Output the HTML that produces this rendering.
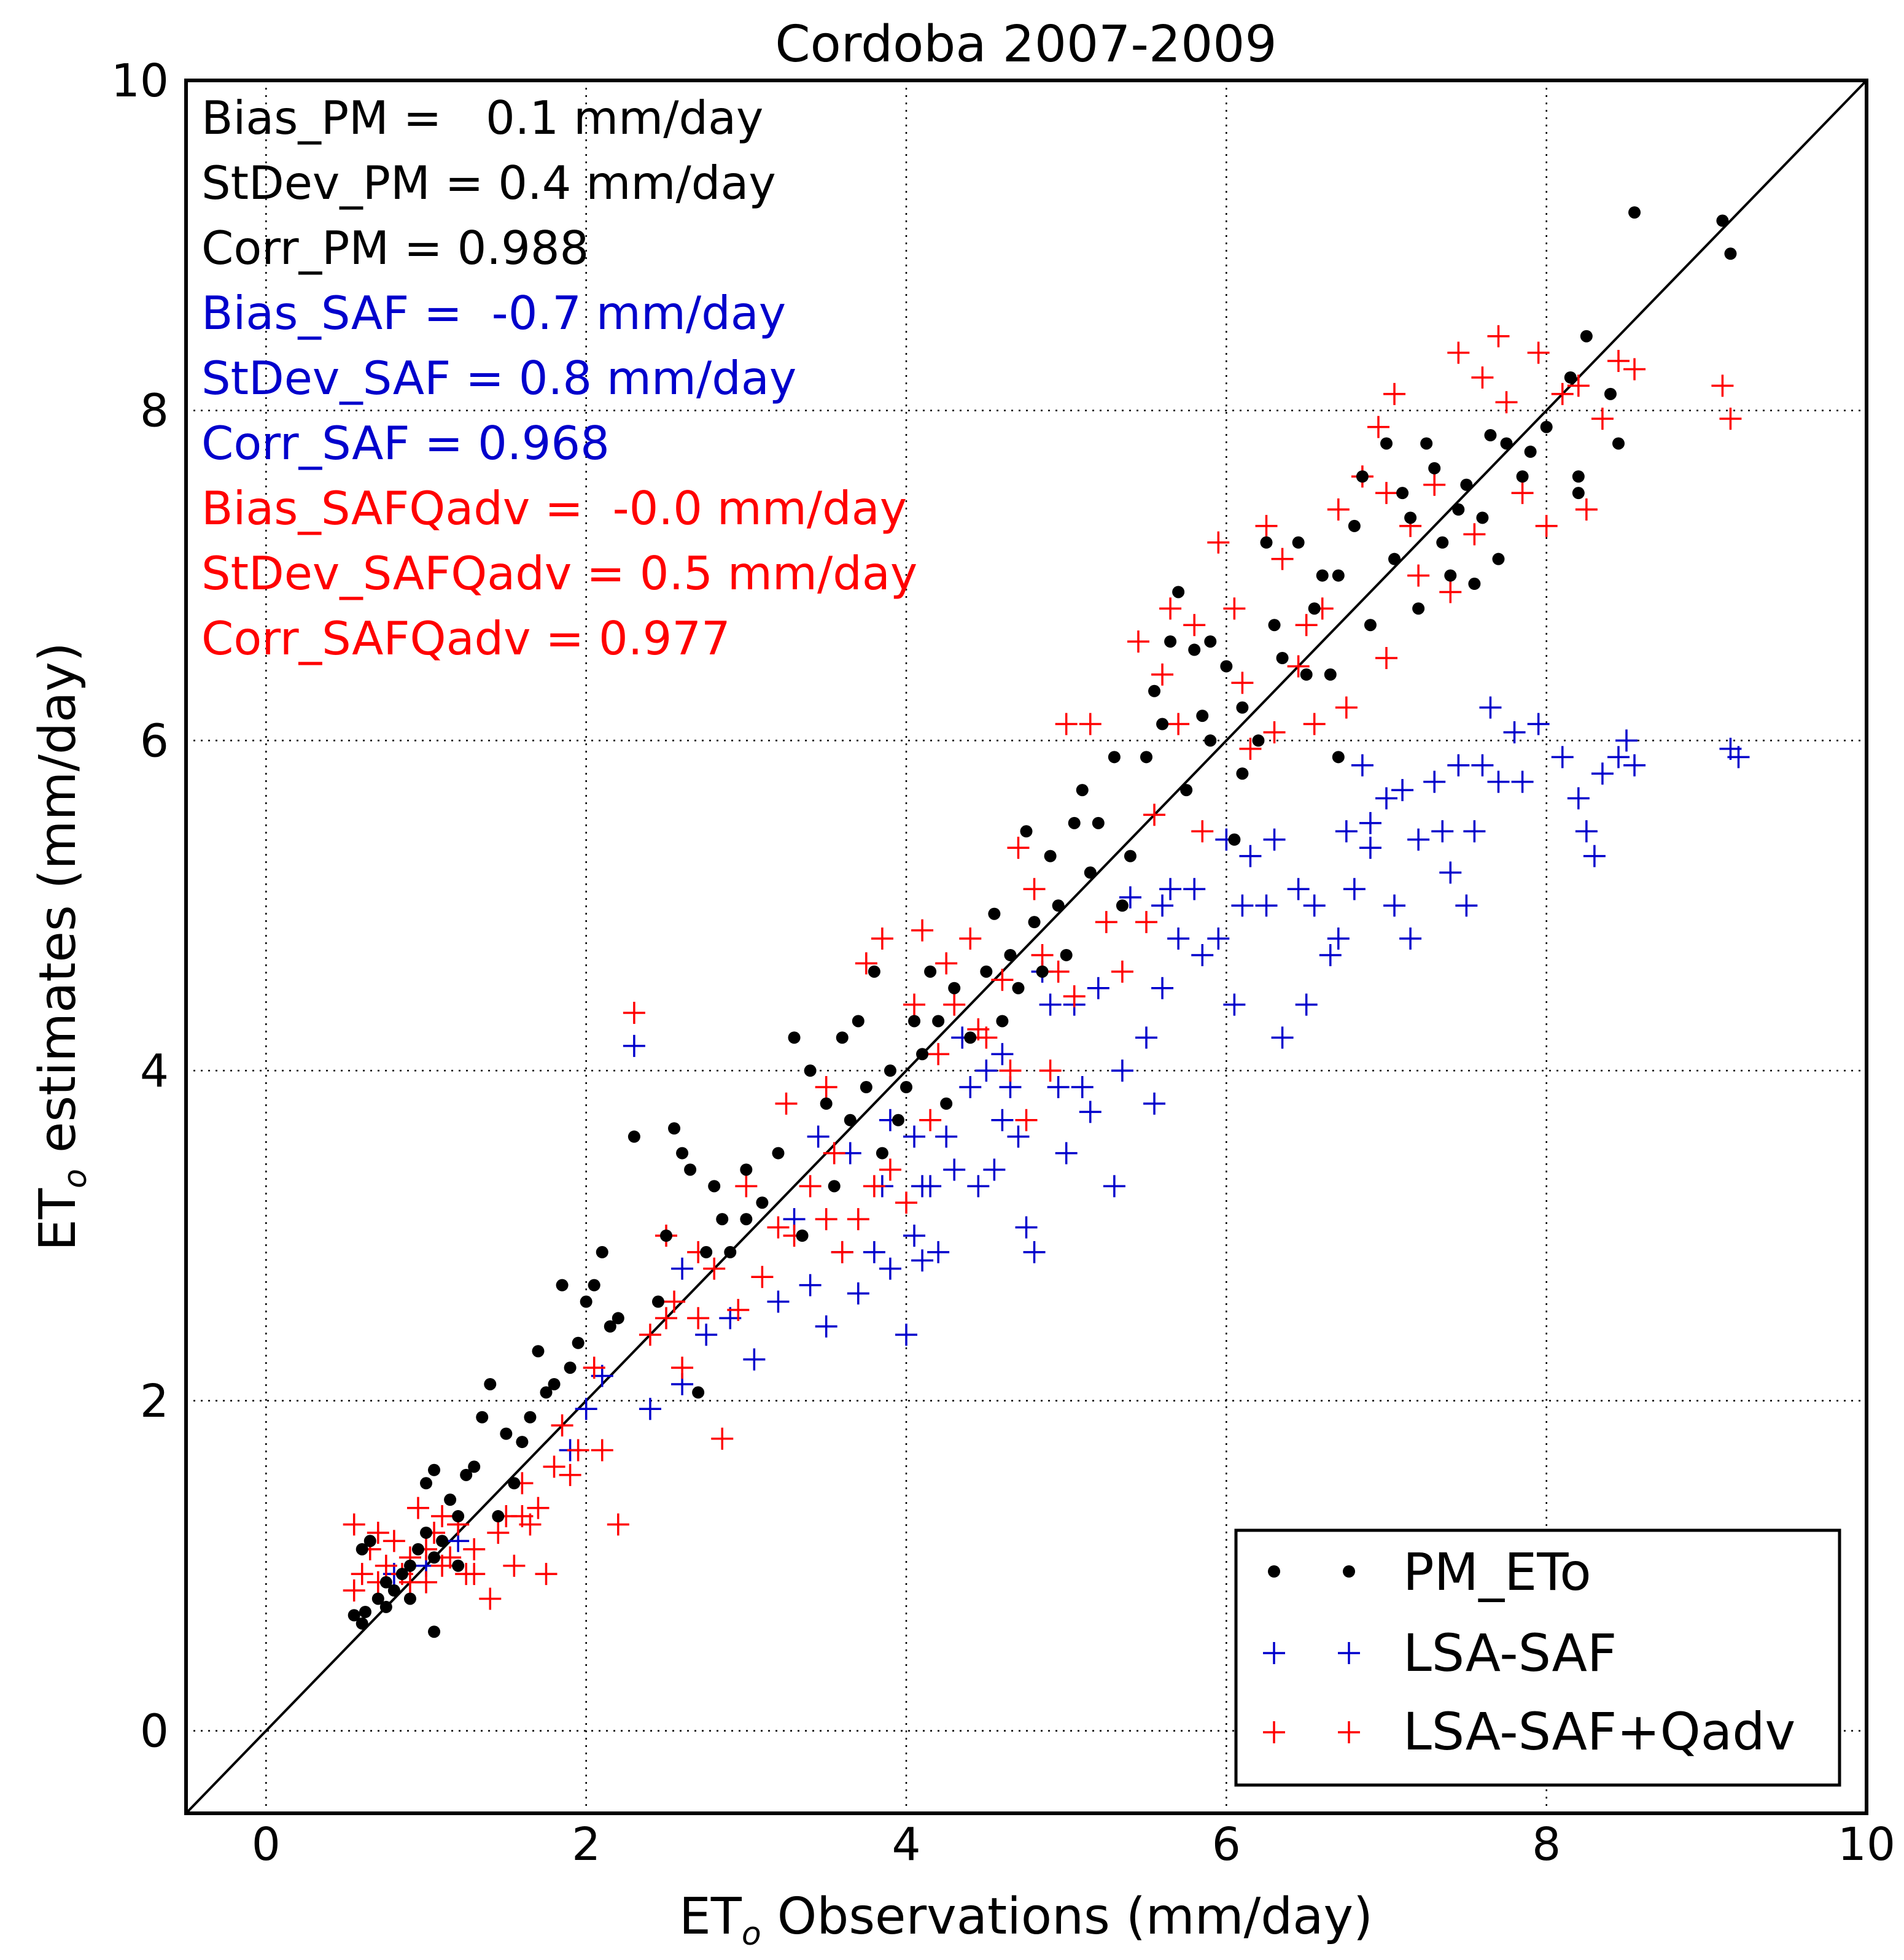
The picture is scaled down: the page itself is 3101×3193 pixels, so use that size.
<!DOCTYPE html>
<html><head><meta charset="utf-8">
<style>html,body{margin:0;padding:0;background:#fff}svg{display:block}text{font-family:"DejaVu Sans","Liberation Sans",sans-serif;white-space:pre}</style>
</head><body>
<svg id="chart" width="3101" height="3193" viewBox="0 0 3101 3193" xmlns="http://www.w3.org/2000/svg" xml:space="preserve">
<rect width="3101" height="3193" fill="#fff"/>
<text x="1671" y="100" font-size="82" text-anchor="middle">Cordoba 2007-2009</text>
<g id="grid"></g>
<g id="marks"></g>
<rect x="303" y="131" width="2737" height="2823" fill="none" stroke="#000" stroke-width="6"/>
<g id="ticks" font-size="74"></g>
<text x="1671" y="3150" font-size="82" text-anchor="middle">ET<tspan font-size="52" dy="18" font-style="italic">o</tspan><tspan dy="-18"> Observations (mm/day)</tspan></text>
<text transform="translate(122,1542) rotate(-90)" font-size="82" text-anchor="middle">ET<tspan font-size="52" dy="18" font-style="italic">o</tspan><tspan dy="-18"> estimates (mm/day)</tspan></text>
<g font-size="75">
<text x="328" y="218">Bias_PM =   0.1 mm/day</text>
<text x="328" y="324">StDev_PM = 0.4 mm/day</text>
<text x="328" y="430">Corr_PM = 0.988</text>
<text x="328" y="536" fill="#0000cc">Bias_SAF =  -0.7 mm/day</text>
<text x="328" y="642" fill="#0000cc">StDev_SAF = 0.8 mm/day</text>
<text x="328" y="748" fill="#0000cc">Corr_SAF = 0.968</text>
<text x="328" y="854" fill="#ff0000">Bias_SAFQadv =  -0.0 mm/day</text>
<text x="328" y="960" fill="#ff0000">StDev_SAFQadv = 0.5 mm/day</text>
<text x="328" y="1066" fill="#ff0000">Corr_SAFQadv = 0.977</text>
</g>
<g>
<rect x="2013" y="2493" width="983" height="415" fill="#fff" stroke="#000" stroke-width="5"/>
<g>
<circle cx="2075" cy="2560" r="10"/><circle cx="2197" cy="2560" r="10"/>
<text x="2285" y="2590" font-size="84">PM_ETo</text></g>
<g stroke="#0000cc" stroke-width="3.5">
<path d="M2057 2693h36M2075 2675v36M2179 2693h36M2197 2675v36"/>
<text x="2285" y="2722" font-size="84" stroke="none" fill="#000">LSA-SAF</text></g>
<g stroke="#ff0000" stroke-width="3.5">
<path d="M2057 2822h36M2075 2804v36M2179 2822h36M2197 2804v36"/>
<text x="2285" y="2850" font-size="84" stroke="none" fill="#000">LSA-SAF+Qadv</text></g>
</g>
</svg>
<script>
const xTicks=[0,2,4,6,8,10];
const yTicks=[0,2,4,6,8,10];
const pmX=[0.55,0.6,0.62,0.7,0.75,0.8,0.85,0.9,0.95,1.0,1.05,1.1,0.6,0.65,1.05,0.9,1.0,1.05,1.15,1.2,1.25,1.3,1.35,1.4,1.5,1.55,1.6,1.65,1.7,1.75,1.8,1.85,1.9,1.95,2.0,2.05,2.1,2.15,2.3,2.45,2.5,2.55,2.6,2.65,2.7,2.75,2.8,2.85,2.9,3.0,3.1,3.2,3.3,3.35,3.4,3.5,3.55,3.6,3.65,3.7,3.75,3.8,3.85,3.9,3.95,4.0,4.05,4.1,4.15,4.2,4.25,4.3,4.4,4.5,4.55,4.6,4.65,4.7,4.75,4.8,4.85,4.9,4.95,5.0,5.05,5.1,5.15,5.2,5.3,5.35,5.4,5.5,5.55,5.6,5.65,5.7,5.75,5.8,5.85,5.9,6.0,6.05,6.1,6.2,6.25,6.3,6.35,6.45,6.5,6.55,6.6,6.65,6.7,6.8,6.85,6.9,7.0,7.05,7.1,7.15,7.2,7.25,7.3,7.35,7.4,7.45,7.5,7.55,7.6,7.65,7.7,7.75,7.85,8.0,8.15,8.2,8.25,8.4,8.45,8.55,9.1,9.15,8.2,7.9,6.7,6.1,5.9,3.0,2.2,1.45,1.2,0.75];
const pmY=[0.7,0.65,0.72,0.8,0.9,0.85,0.95,1.0,1.1,1.2,1.05,1.15,1.1,1.15,0.6,0.8,1.5,1.58,1.4,1.3,1.55,1.6,1.9,2.1,1.8,1.5,1.75,1.9,2.3,2.05,2.1,2.7,2.2,2.35,2.6,2.7,2.9,2.45,3.6,2.6,3.0,3.65,3.5,3.4,2.05,2.9,3.3,3.1,2.9,3.4,3.2,3.5,4.2,3.0,4.0,3.8,3.3,4.2,3.7,4.3,3.9,4.6,3.5,4.0,3.7,3.9,4.3,4.1,4.6,4.3,3.8,4.5,4.2,4.6,4.95,4.3,4.7,4.5,5.45,4.9,4.6,5.3,5.0,4.7,5.5,5.7,5.2,5.5,5.9,5.0,5.3,5.9,6.3,6.1,6.6,6.9,5.7,6.55,6.15,6.0,6.45,5.4,6.2,6.0,7.2,6.7,6.5,7.2,6.4,6.8,7.0,6.4,5.9,7.3,7.6,6.7,7.8,7.1,7.5,7.35,6.8,7.8,7.65,7.2,7.0,7.4,7.55,6.95,7.35,7.85,7.1,7.8,7.6,7.9,8.2,7.6,8.45,8.1,7.8,9.2,9.15,8.95,7.5,7.75,7.0,5.8,6.6,3.1,2.5,1.3,1.0,0.75];
const safX=[2.3,2.4,2.6,2.75,3.05,3.2,3.4,3.5,3.6,3.7,3.8,3.85,3.9,4.0,4.05,4.1,4.15,4.2,4.25,4.3,4.4,4.45,4.5,4.55,4.6,4.65,4.7,4.75,4.8,4.85,4.9,4.95,5.0,5.05,5.1,5.15,5.2,5.3,5.35,5.4,5.5,5.55,5.6,5.65,5.7,5.8,5.85,5.95,6.0,6.05,6.1,6.15,6.25,6.3,6.35,6.45,6.5,6.55,6.65,6.7,6.75,6.8,6.85,6.9,7.0,7.05,7.1,7.15,7.2,7.3,7.35,7.4,7.45,7.5,7.55,7.6,7.65,7.7,7.8,7.85,7.95,8.1,8.2,8.25,8.3,8.35,8.45,8.5,8.55,9.15,9.2,3.45,3.65,3.9,4.05,2.6,2.9,3.3,2.1,2.0,1.9,4.1,5.6,6.9,4.35,4.6,1.0,0.8,1.2];
const safY=[4.15,1.95,2.1,2.4,2.25,2.6,2.7,2.45,2.9,2.65,2.9,3.3,2.8,2.4,3.0,2.85,3.3,2.9,3.6,3.4,3.9,3.3,4.0,3.4,3.7,3.9,3.6,3.05,2.9,4.6,4.4,3.9,3.5,4.4,3.9,3.75,4.5,3.3,4.0,5.05,4.2,3.8,4.5,5.1,4.8,5.1,4.7,4.8,5.4,4.4,5.0,5.3,5.0,5.4,4.2,5.1,4.4,5.0,4.7,4.8,5.45,5.1,5.85,5.5,5.65,5.0,5.7,4.8,5.4,5.75,5.45,5.2,5.85,5.0,5.45,5.85,6.2,5.75,6.05,5.75,6.1,5.9,5.65,5.45,5.3,5.8,5.9,6.0,5.85,5.95,5.9,3.6,3.5,3.7,3.6,2.8,2.5,3.1,2.15,1.95,1.7,3.3,5.0,5.35,4.2,4.1,1.0,0.95,1.15];
const advX=[0.55,0.55,0.6,0.65,0.7,0.75,0.8,0.85,0.9,0.95,1.0,1.05,1.1,1.15,1.2,1.25,1.3,1.4,1.45,1.5,1.55,1.6,1.65,1.7,1.75,1.8,1.85,1.9,1.95,2.05,2.1,2.2,2.3,2.4,2.5,2.55,2.6,2.7,2.8,2.85,2.95,3.0,3.1,3.25,3.3,3.4,3.5,3.55,3.6,3.7,3.75,3.85,3.9,4.0,4.05,4.1,4.15,4.2,4.25,4.3,4.4,4.5,4.6,4.65,4.7,4.75,4.8,4.85,4.9,5.0,5.05,5.15,5.25,5.35,5.45,5.5,5.55,5.6,5.65,5.7,5.8,5.85,5.95,6.05,6.15,6.25,6.3,6.35,6.45,6.5,6.55,6.6,6.7,6.75,6.85,6.95,7.0,7.05,7.15,7.2,7.3,7.4,7.45,7.55,7.6,7.7,7.75,7.85,7.95,8.0,8.1,8.2,8.25,8.35,8.45,8.55,9.1,9.15,1.0,1.1,0.9,2.5,2.7,3.2,3.8,4.45,4.95,1.3,0.7,1.6,6.1,7.0,3.5];
const advY=[1.25,0.85,0.95,1.1,0.9,1.0,1.15,0.95,1.05,1.35,0.9,1.2,1.0,1.05,1.25,0.95,1.1,0.8,1.2,1.3,1.0,1.5,1.25,1.35,0.95,1.6,1.85,1.55,1.7,2.2,1.7,1.25,4.35,2.4,3.0,2.6,2.2,2.5,2.8,1.77,2.55,3.3,2.75,3.8,3.0,3.3,3.1,3.5,2.9,3.1,4.65,4.8,3.4,3.2,4.4,4.85,3.7,4.1,4.65,4.4,4.8,4.2,4.55,4.0,5.35,3.7,5.1,4.7,4.0,6.1,4.45,6.1,4.9,4.6,6.6,4.9,5.55,6.4,6.8,6.1,6.7,5.45,7.2,6.8,5.95,7.3,6.05,7.1,6.45,6.7,6.1,6.8,7.4,6.2,7.6,7.9,6.5,8.1,7.3,7.0,7.55,6.9,8.35,7.25,8.2,8.45,8.05,7.5,8.35,7.3,8.1,8.15,7.4,7.95,8.3,8.25,8.15,7.95,1.1,1.3,0.9,2.5,2.9,3.05,3.3,4.25,4.6,0.95,1.2,1.3,6.35,7.5,3.9];
const NS='http://www.w3.org/2000/svg';
const L=303,R=3040,T=131,B=2954;
const X=v=>L+(v+0.5)/10.5*(R-L);
const Y=v=>B-(v+0.5)/10.5*(B-T);
function mk(tag,attrs,parent){const e=document.createElementNS(NS,tag);for(const k in attrs)e.setAttribute(k,attrs[k]);parent.appendChild(e);return e;}
const grid=document.getElementById('grid'),marks=document.getElementById('marks'),ticks=document.getElementById('ticks');
xTicks.forEach(t=>{
  const ln=mk('line',{x1:X(t),x2:X(t),y1:T,y2:B,stroke:'#000','stroke-width':2.5,'stroke-dasharray':'3,9'},grid);
  
  
  const tx=mk('text',{x:X(t),y:3030,'text-anchor':'middle'},ticks);tx.textContent=t;
  
  
});
yTicks.forEach(t=>{
  const ln=mk('line',{x1:L,x2:R,y1:Y(t),y2:Y(t),stroke:'#000','stroke-width':2.5,'stroke-dasharray':'3,9'},grid);
  
  
  const tx=mk('text',{x:275,y:Y(t)+26,'text-anchor':'end'},ticks);tx.textContent=t;
  
  
});
const one=mk('line',{x1:X(-0.5),y1:Y(-0.5),x2:X(10),y2:Y(10),stroke:'#000','stroke-width':4},marks);


function plus(xs,ys,col,name){xs.forEach((v,i)=>{const cx=X(v),cy=Y(ys[i]);
  const p=mk('path',{d:`M${cx-18} ${cy}h36M${cx} ${cy-18}v36`,stroke:col,'stroke-width':3.5,fill:'none'},marks);
  
  });}
plus(safX,safY,'#0000cc','saf-point');
plus(advX,advY,'#ff0000','safqadv-point');
pmX.forEach((v,i)=>{const c=mk('circle',{cx:X(v),cy:Y(pmY[i]),r:10,fill:'#000'},marks);
  
  });
</script>
</body></html>
